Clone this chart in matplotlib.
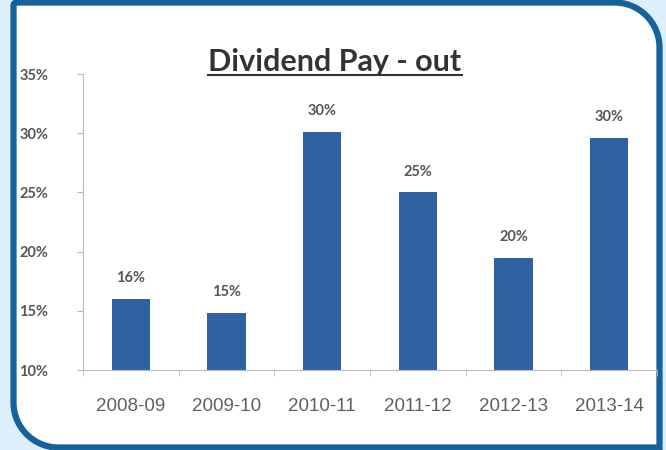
import numpy as np
import matplotlib
matplotlib.use("Agg")
import matplotlib.pyplot as plt
from matplotlib.path import Path
from matplotlib.patches import PathPatch
from matplotlib.transforms import Affine2D

categories = ["2008-09", "2009-10", "2010-11", "2011-12", "2012-13", "2013-14"]
payout = [16.0, 14.8, 30.1, 25.0, 19.5, 29.6]
labels = ["16%", "15%", "30%", "25%", "20%", "30%"]
yticks = [10, 15, 20, 25, 30, 35]
title = "Dividend Pay - out"

W, H = 666, 450
fig = plt.figure(figsize=(W / 100, H / 100), dpi=100)
fig.patch.set_facecolor("#DDEFFA")

def arc(cx, cy, r, a0, a1, n=30):
    t = np.radians(np.linspace(a0, a1, n))
    return list(zip(cx + r * np.cos(t), cy + r * np.sin(t)))

x0, x1, y0, y1 = 13.5, 659.5, 2.5, 447.5
R = 45
pts = []
pts += arc(x0 + 3, y1 - 3, 3, 180, 90)
pts += arc(x1 - R, y1 - R, R, 90, 0)
pts += [(x1, y0)]
pts += arc(x0 + R, y0 + R, R, 270, 180)
pts.append(pts[0])
path = Path(pts)
tr = Affine2D().scale(1 / W, 1 / H) + fig.transFigure
panel = PathPatch(path, facecolor="white", edgecolor="#17629A", lw=4.5, transform=tr, zorder=-1)
fig.patches.append(panel)

ax = fig.add_axes([83 / W, 1 - 370 / H, (657 - 83) / W, (370 - 74) / H])
ax.set_facecolor("none")
x = np.arange(len(categories))
ax.bar(x, [v - 10 for v in payout], bottom=10, width=0.4, color="#2F62A1", zorder=2)
for xi, v, lab in zip(x, payout, labels):
    ax.annotate(lab, (xi, v), xytext=(0, 10), textcoords="offset points", ha="center",
                va="bottom", fontsize=10.5, color="#555555", fontweight="bold",
                family="Lato")

ax.set_xlim(-0.5, len(categories) - 0.5)
ax.set_ylim(10, 35)
ax.set_yticks(yticks)
ax.set_yticklabels([f"{t}%" for t in yticks], fontsize=10.5, color="#555555",
                   family="Lato", fontweight="bold")
ax.set_xticks(x)
ax.set_xticklabels(categories, fontsize=13.5, color="#606060", family="Liberation Sans")
ax.set_xticks(np.arange(-0.5, len(categories)), minor=True)
ax.tick_params(axis="x", which="major", length=0, pad=20)
ax.tick_params(axis="x", which="minor", length=4, color="#BBBBBB")
ax.tick_params(axis="y", length=4, color="#BBBBBB", pad=21)
for s in ["top", "right"]:
    ax.spines[s].set_visible(False)
ax.spines["left"].set_color("#BBBBBB")
ax.spines["bottom"].set_color("#BBBBBB")

t = fig.text(335 / W, 1 - 62 / H, title, ha="center", va="center", fontsize=22,
             fontweight="bold", color="#333333", family="Lato")
fig.canvas.draw()
bb = t.get_window_extent()
fig.add_artist(plt.Line2D([bb.x0 / W, bb.x1 / W], [(bb.y0 + 1) / H, (bb.y0 + 1) / H],
                          transform=fig.transFigure, color="#333333", lw=1.5))

fig.savefig("out.png", dpi=100)
